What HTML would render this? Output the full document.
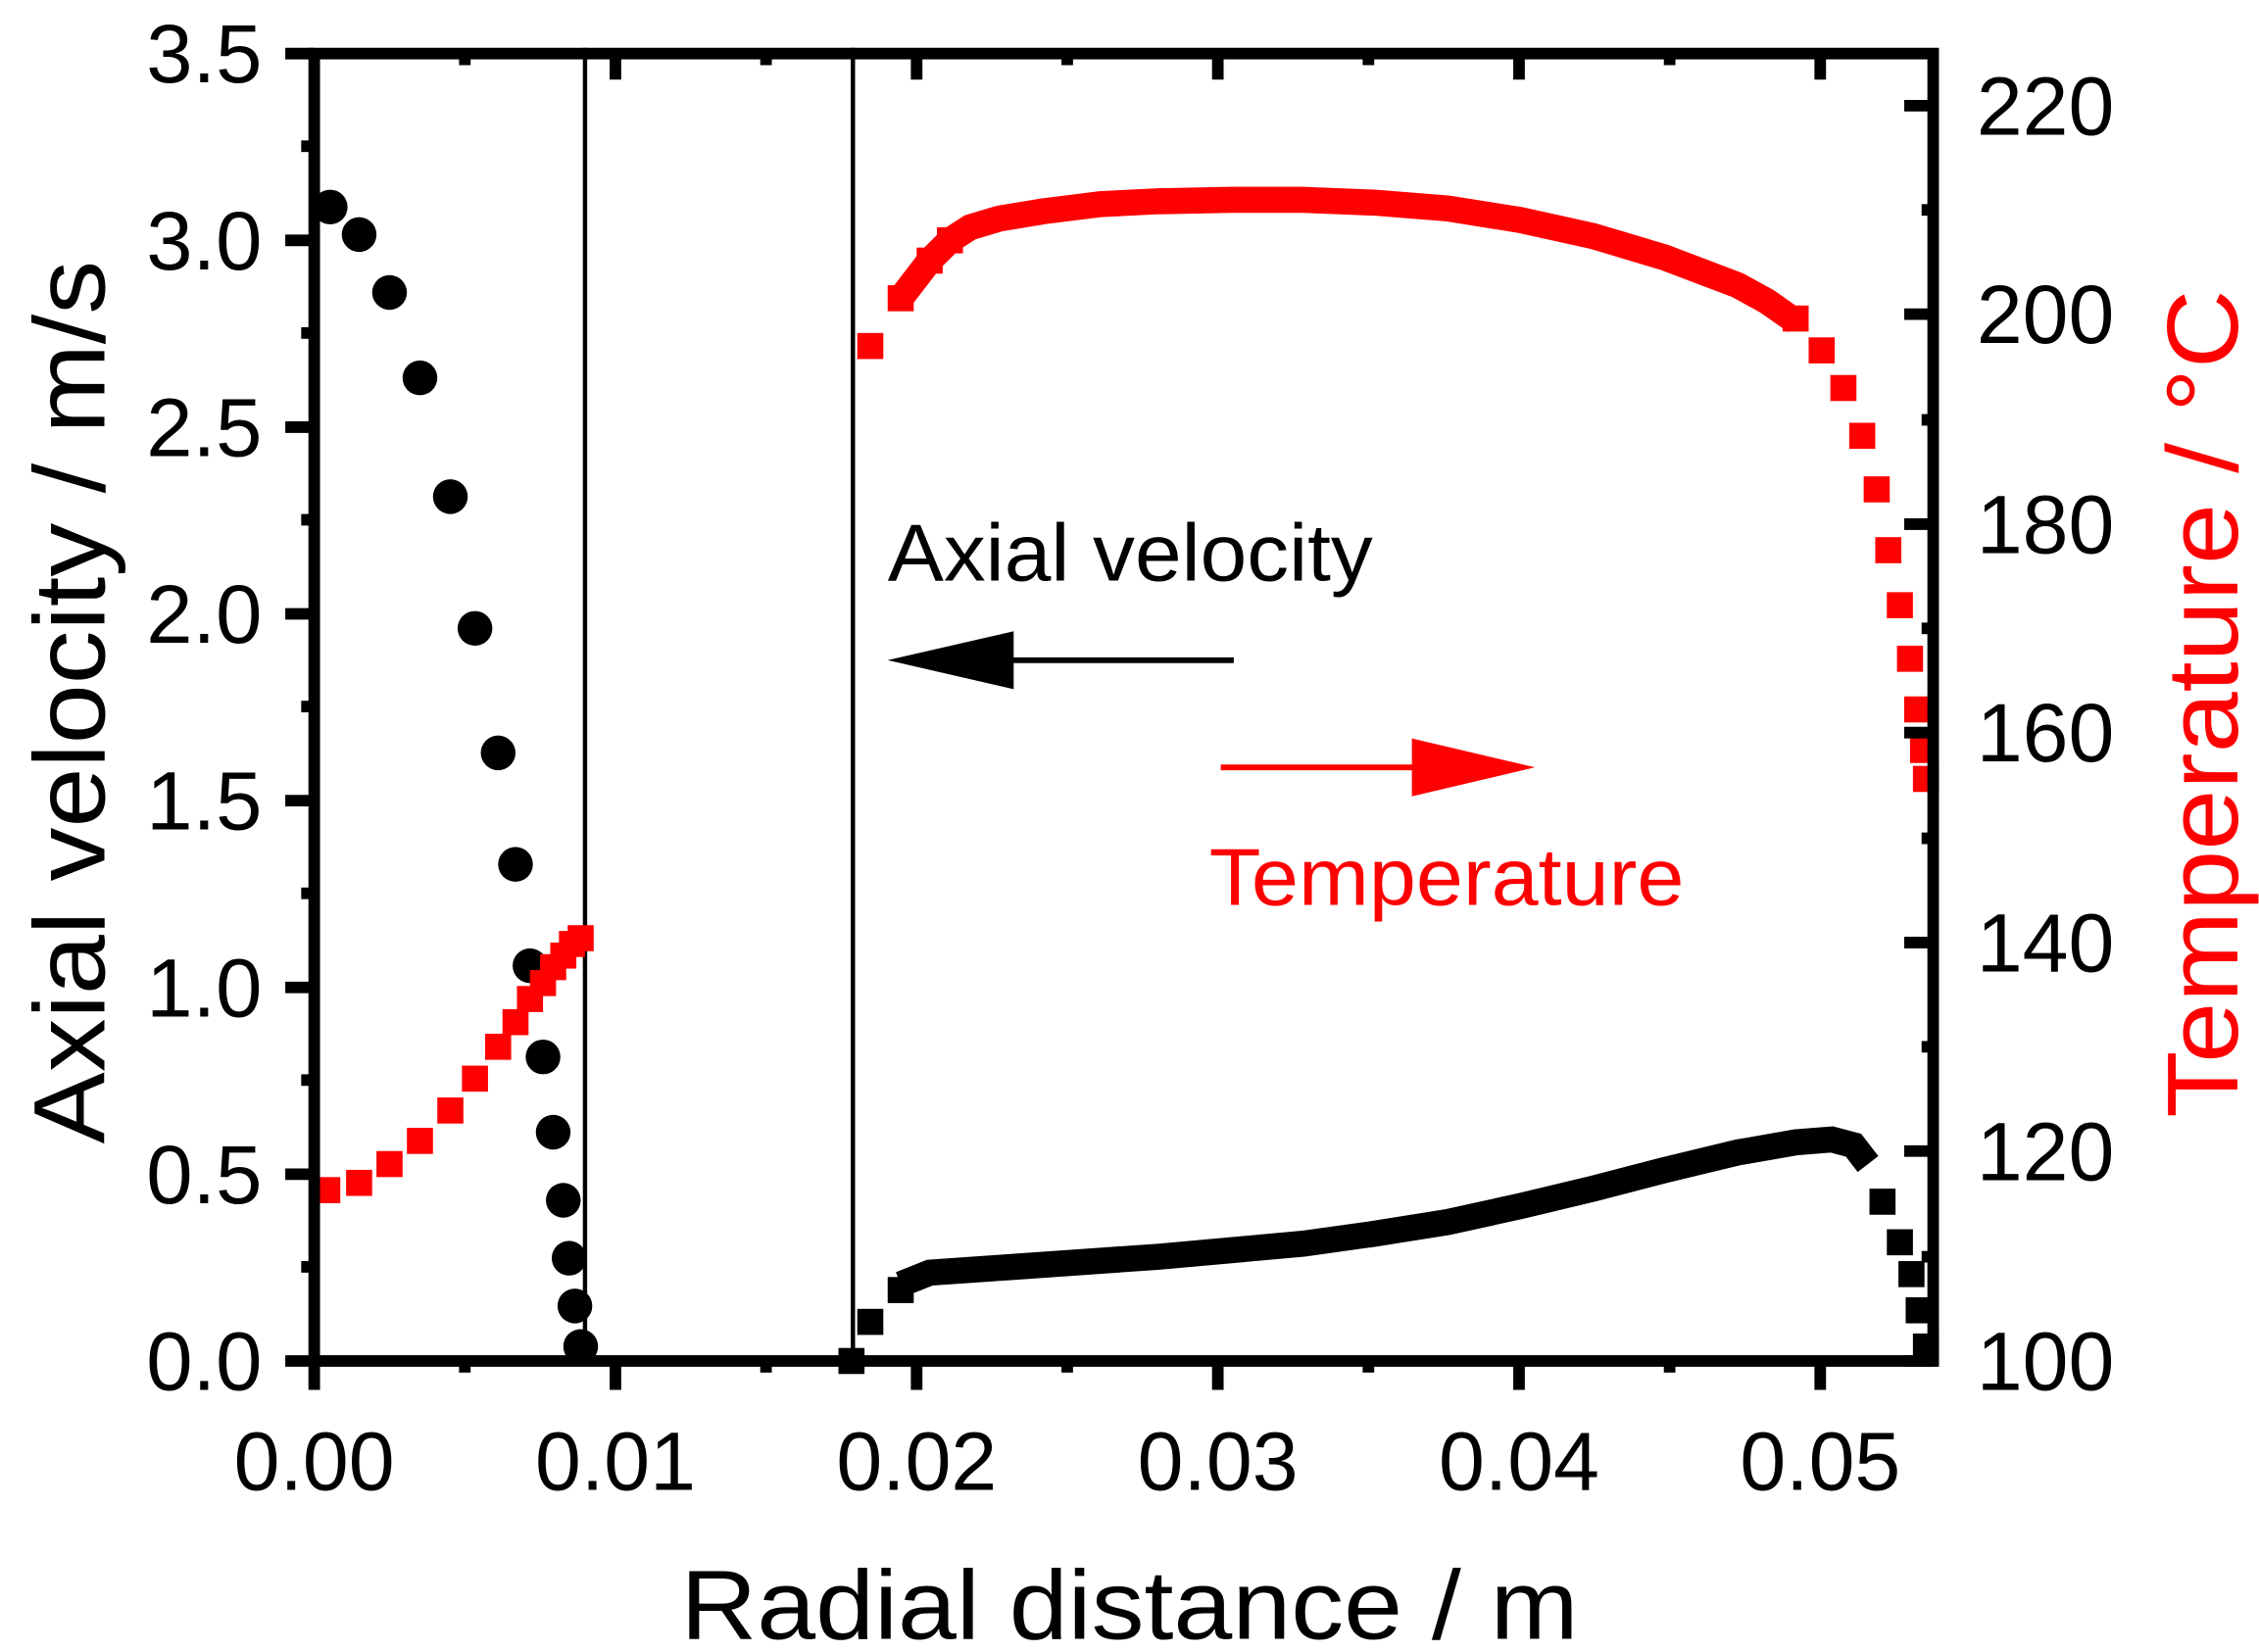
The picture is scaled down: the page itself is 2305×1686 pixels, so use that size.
<!DOCTYPE html>
<html><head><style>html,body{margin:0;padding:0;background:#fff}svg{display:block}</style></head>
<body>
<svg width="2305" height="1686" viewBox="0 0 1560 1141" preserveAspectRatio="none" xmlns="http://www.w3.org/2000/svg" font-family="Liberation Sans, Arial, sans-serif">
<rect width="1560" height="1141" fill="#fff"/>
<line x1="404" y1="33" x2="404" y2="940" stroke="#000" stroke-width="3"/>
<line x1="589" y1="33" x2="589" y2="940" stroke="#000" stroke-width="3"/>
<g fill="#000">
<circle cx="228" cy="143" r="12"/><circle cx="248" cy="162" r="12"/><circle cx="269" cy="202" r="12"/>
<circle cx="290" cy="261" r="12"/><circle cx="311" cy="343" r="12"/><circle cx="328" cy="434" r="12"/>
<circle cx="344" cy="520" r="12"/><circle cx="356" cy="597" r="12"/><circle cx="366" cy="667" r="12"/>
<circle cx="375" cy="730" r="12"/><circle cx="382" cy="782" r="12"/><circle cx="389" cy="829" r="12"/>
<circle cx="393" cy="869" r="12"/><circle cx="397" cy="902" r="12"/><circle cx="401" cy="930" r="12"/>
</g>
<g fill="#f00">
<rect x="217" y="813" width="18" height="18"/><rect x="239" y="808" width="18" height="18"/>
<rect x="260" y="795" width="18" height="18"/><rect x="281" y="779" width="18" height="18"/>
<rect x="302" y="758" width="18" height="18"/><rect x="319" y="736" width="18" height="18"/>
<rect x="335" y="714" width="18" height="18"/><rect x="347" y="697" width="18" height="18"/>
<rect x="357" y="681" width="18" height="18"/><rect x="366" y="670" width="18" height="18"/>
<rect x="373" y="659" width="18" height="18"/><rect x="380" y="651" width="18" height="18"/>
<rect x="386" y="643" width="18" height="18"/><rect x="392" y="639" width="18" height="18"/>
</g>
<polyline fill="none" stroke="#f00" stroke-width="18" points="622,206 642,180 656,166 670,157 690,151 720,146 760,141 800,139 850,138 900,138 950,140 1000,144 1050,152 1100,163 1150,178 1200,197 1220,208 1240,222"/>
<g fill="#f00">
<rect x="592" y="230" width="18" height="18"/><rect x="613" y="197" width="18" height="18"/>
<rect x="633" y="171" width="18" height="18"/><rect x="647" y="157" width="18" height="18"/>
<rect x="1231" y="211" width="18" height="18"/><rect x="1249" y="233" width="18" height="18"/>
<rect x="1264" y="259" width="18" height="18"/><rect x="1277" y="292" width="18" height="18"/>
<rect x="1287" y="329" width="18" height="18"/><rect x="1295" y="371" width="18" height="18"/>
<rect x="1303" y="409" width="18" height="18"/><rect x="1310" y="446" width="18" height="18"/>
<rect x="1315" y="481" width="18" height="18"/><rect x="1319" y="509" width="18" height="18"/>
<rect x="1321" y="529" width="18" height="18"/>
</g>
<polyline fill="none" stroke="#000" stroke-width="18" points="622,887 642,879 700,875 800,868 900,859 950,852 1000,844 1050,833 1100,821 1150,808 1200,796 1240,789 1265,787 1280,791 1290,804"/>
<g fill="#000">
<rect x="579" y="931" width="18" height="18"/><rect x="592" y="904" width="18" height="18"/>
<rect x="613" y="882" width="18" height="18"/><rect x="1291" y="821" width="18" height="18"/>
<rect x="1303" y="849" width="18" height="18"/><rect x="1311" y="871" width="18" height="18"/>
<rect x="1316" y="896" width="18" height="18"/><rect x="1321" y="921" width="18" height="18"/>
</g>
<line x1="690" y1="456" x2="852" y2="456" stroke="#000" stroke-width="4"/>
<polygon points="613,456 700,436 700,476" fill="#000"/>
<line x1="843" y1="530" x2="980" y2="530" stroke="#f00" stroke-width="4"/>
<polygon points="1060,530 975,510 975,550" fill="#f00"/>
<text x="613" y="401" font-size="56" textLength="335" lengthAdjust="spacingAndGlyphs">Axial velocity</text>
<text x="835" y="625" font-size="56" fill="#f00" textLength="328" lengthAdjust="spacingAndGlyphs">Temperature</text>
<rect x="217" y="37" width="1118" height="903" fill="none" stroke="#000" stroke-width="8"/>
<g stroke="#000" stroke-width="8">
<line x1="217" y1="940" x2="217" y2="960"/><line x1="425" y1="940" x2="425" y2="960"/>
<line x1="633" y1="940" x2="633" y2="960"/><line x1="841" y1="940" x2="841" y2="960"/>
<line x1="1049" y1="940" x2="1049" y2="960"/><line x1="1257" y1="940" x2="1257" y2="960"/>
<line x1="321" y1="940" x2="321" y2="948"/><line x1="529" y1="940" x2="529" y2="948"/>
<line x1="737" y1="940" x2="737" y2="948"/><line x1="945" y1="940" x2="945" y2="948"/>
<line x1="1153" y1="940" x2="1153" y2="948"/>
<line x1="425" y1="37" x2="425" y2="55"/><line x1="633" y1="37" x2="633" y2="55"/>
<line x1="841" y1="37" x2="841" y2="55"/><line x1="1049" y1="37" x2="1049" y2="55"/>
<line x1="1257" y1="37" x2="1257" y2="55"/>
<line x1="321" y1="37" x2="321" y2="45"/><line x1="529" y1="37" x2="529" y2="45"/>
<line x1="737" y1="37" x2="737" y2="45"/><line x1="945" y1="37" x2="945" y2="45"/>
<line x1="1153" y1="37" x2="1153" y2="45"/>
<line x1="197" y1="940" x2="217" y2="940"/><line x1="197" y1="811" x2="217" y2="811"/>
<line x1="197" y1="682" x2="217" y2="682"/><line x1="197" y1="553" x2="217" y2="553"/>
<line x1="197" y1="424" x2="217" y2="424"/><line x1="197" y1="295" x2="217" y2="295"/>
<line x1="197" y1="166" x2="217" y2="166"/><line x1="197" y1="37" x2="217" y2="37"/>
<line x1="208" y1="875" x2="217" y2="875"/><line x1="208" y1="746" x2="217" y2="746"/>
<line x1="208" y1="617" x2="217" y2="617"/><line x1="208" y1="488" x2="217" y2="488"/>
<line x1="208" y1="359" x2="217" y2="359"/><line x1="208" y1="230" x2="217" y2="230"/>
<line x1="208" y1="101" x2="217" y2="101"/>
<line x1="1315" y1="940" x2="1335" y2="940"/><line x1="1315" y1="795" x2="1335" y2="795"/>
<line x1="1315" y1="651" x2="1335" y2="651"/><line x1="1315" y1="506" x2="1335" y2="506"/>
<line x1="1315" y1="362" x2="1335" y2="362"/><line x1="1315" y1="217" x2="1335" y2="217"/>
<line x1="1315" y1="73" x2="1335" y2="73"/>
<line x1="1327" y1="868" x2="1335" y2="868"/><line x1="1327" y1="723" x2="1335" y2="723"/>
<line x1="1327" y1="579" x2="1335" y2="579"/><line x1="1327" y1="434" x2="1335" y2="434"/>
<line x1="1327" y1="290" x2="1335" y2="290"/><line x1="1327" y1="145" x2="1335" y2="145"/>
</g>
<g font-size="57" text-anchor="end">
<text x="181" y="960" textLength="80" lengthAdjust="spacingAndGlyphs">0.0</text><text x="181" y="831" textLength="80" lengthAdjust="spacingAndGlyphs">0.5</text><text x="181" y="702" textLength="80" lengthAdjust="spacingAndGlyphs">1.0</text>
<text x="181" y="573" textLength="80" lengthAdjust="spacingAndGlyphs">1.5</text><text x="181" y="444" textLength="80" lengthAdjust="spacingAndGlyphs">2.0</text><text x="181" y="315" textLength="80" lengthAdjust="spacingAndGlyphs">2.5</text>
<text x="181" y="186" textLength="80" lengthAdjust="spacingAndGlyphs">3.0</text><text x="181" y="57" textLength="80" lengthAdjust="spacingAndGlyphs">3.5</text>
</g>
<g font-size="57" text-anchor="start">
<text x="1365" y="960" textLength="95" lengthAdjust="spacingAndGlyphs">100</text><text x="1365" y="815" textLength="95" lengthAdjust="spacingAndGlyphs">120</text><text x="1365" y="671" textLength="95" lengthAdjust="spacingAndGlyphs">140</text>
<text x="1365" y="526" textLength="95" lengthAdjust="spacingAndGlyphs">160</text><text x="1365" y="382" textLength="95" lengthAdjust="spacingAndGlyphs">180</text><text x="1365" y="237" textLength="95" lengthAdjust="spacingAndGlyphs">200</text>
<text x="1365" y="93" textLength="95" lengthAdjust="spacingAndGlyphs">220</text>
</g>
<g font-size="57" text-anchor="middle">
<text x="217" y="1029">0.00</text><text x="425" y="1029">0.01</text><text x="633" y="1029">0.02</text>
<text x="841" y="1029">0.03</text><text x="1049" y="1029">0.04</text><text x="1257" y="1029">0.05</text>
</g>
<text x="470" y="1132" font-size="68" textLength="620" lengthAdjust="spacingAndGlyphs">Radial distance / m</text>
<text transform="translate(72,790) rotate(-90)" font-size="70" textLength="610" lengthAdjust="spacingAndGlyphs">Axial velocity / m/s</text>
<text transform="translate(1545,772) rotate(-90)" font-size="70" fill="#f00" textLength="572" lengthAdjust="spacingAndGlyphs">Temperature / °C</text>
</svg>
</body></html>
